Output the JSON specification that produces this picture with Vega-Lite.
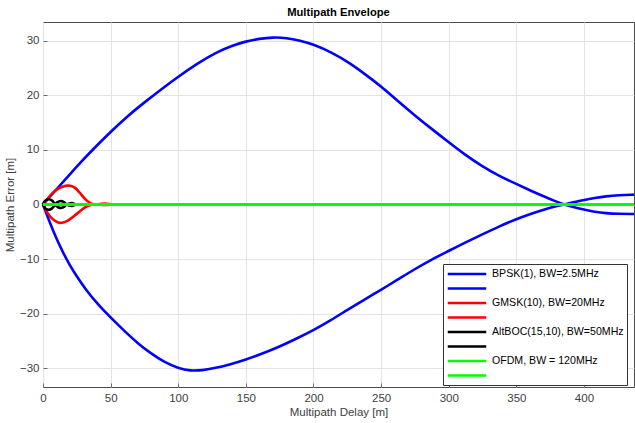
{
  "$schema": "https://vega.github.io/schema/vega-lite/v6.json",
  "width": 591,
  "height": 365,
  "autosize": {"type": "none"},
  "padding": {"left": 43, "top": 22, "right": 1, "bottom": 36},
  "background": "white",
  "title": {"text": "Multipath Envelope", "fontSize": 11.2, "fontWeight": "bold", "font": "Liberation Sans", "color": "#000000", "offset": 4, "anchor": "middle", "frame": "group"},
  "config": {
    "view": {"stroke": "#4d4d4d", "strokeWidth": 1},
    "axis": {"domain": false, "ticks": true, "tickSize": -4, "tickColor": "#4d4d4d", "tickWidth": 0.8, "grid": true, "gridColor": "#e3e3e3", "gridWidth": 1, "labelFont": "Liberation Sans", "labelFontSize": 11.5, "labelColor": "#404040", "titleFont": "Liberation Sans", "titleFontSize": 11.5, "titleFontWeight": "normal", "titleColor": "#404040"}
  },
  "data": {"values": [
    {"s":"BPSK(1), BW=2.5MHz","x":0,"y":0},
    {"s":"BPSK(1), BW=2.5MHz","x":10,"y":2.8},
    {"s":"BPSK(1), BW=2.5MHz","x":20,"y":5.55},
    {"s":"BPSK(1), BW=2.5MHz","x":27,"y":7.5},
    {"s":"BPSK(1), BW=2.5MHz","x":37,"y":10.1},
    {"s":"BPSK(1), BW=2.5MHz","x":50,"y":13.3},
    {"s":"BPSK(1), BW=2.5MHz","x":63,"y":16.3},
    {"s":"BPSK(1), BW=2.5MHz","x":76.6,"y":19.0},
    {"s":"BPSK(1), BW=2.5MHz","x":88,"y":21.2},
    {"s":"BPSK(1), BW=2.5MHz","x":100,"y":23.4},
    {"s":"BPSK(1), BW=2.5MHz","x":114,"y":25.8},
    {"s":"BPSK(1), BW=2.5MHz","x":128,"y":27.85},
    {"s":"BPSK(1), BW=2.5MHz","x":140,"y":29.1},
    {"s":"BPSK(1), BW=2.5MHz","x":150,"y":29.85},
    {"s":"BPSK(1), BW=2.5MHz","x":160,"y":30.35},
    {"s":"BPSK(1), BW=2.5MHz","x":170,"y":30.6},
    {"s":"BPSK(1), BW=2.5MHz","x":180,"y":30.5},
    {"s":"BPSK(1), BW=2.5MHz","x":190,"y":30.0},
    {"s":"BPSK(1), BW=2.5MHz","x":200,"y":29.3},
    {"s":"BPSK(1), BW=2.5MHz","x":213,"y":27.9},
    {"s":"BPSK(1), BW=2.5MHz","x":227,"y":25.9},
    {"s":"BPSK(1), BW=2.5MHz","x":240,"y":23.5},
    {"s":"BPSK(1), BW=2.5MHz","x":250,"y":21.6},
    {"s":"BPSK(1), BW=2.5MHz","x":262,"y":19.0},
    {"s":"BPSK(1), BW=2.5MHz","x":275,"y":16.3},
    {"s":"BPSK(1), BW=2.5MHz","x":287,"y":13.9},
    {"s":"BPSK(1), BW=2.5MHz","x":300,"y":11.4},
    {"s":"BPSK(1), BW=2.5MHz","x":312,"y":9.1},
    {"s":"BPSK(1), BW=2.5MHz","x":325,"y":6.95},
    {"s":"BPSK(1), BW=2.5MHz","x":337,"y":5.25},
    {"s":"BPSK(1), BW=2.5MHz","x":350,"y":3.75},
    {"s":"BPSK(1), BW=2.5MHz","x":360,"y":2.6},
    {"s":"BPSK(1), BW=2.5MHz","x":370,"y":1.5},
    {"s":"BPSK(1), BW=2.5MHz","x":378,"y":0.68},
    {"s":"BPSK(1), BW=2.5MHz","x":385,"y":0},
    {"s":"BPSK(1), BW=2.5MHz","x":392,"y":-0.45},
    {"s":"BPSK(1), BW=2.5MHz","x":400,"y":-0.95},
    {"s":"BPSK(1), BW=2.5MHz","x":408,"y":-1.35},
    {"s":"BPSK(1), BW=2.5MHz","x":416,"y":-1.6},
    {"s":"BPSK(1), BW=2.5MHz","x":426,"y":-1.72},
    {"s":"BPSK(1), BW=2.5MHz","x":437,"y":-1.75},
    {"s":"BPSK(1) lower","x":0,"y":0},
    {"s":"BPSK(1) lower","x":5,"y":-3.3},
    {"s":"BPSK(1) lower","x":10,"y":-6.3},
    {"s":"BPSK(1) lower","x":15,"y":-8.9},
    {"s":"BPSK(1) lower","x":20,"y":-11.2},
    {"s":"BPSK(1) lower","x":25,"y":-13.2},
    {"s":"BPSK(1) lower","x":32,"y":-15.7},
    {"s":"BPSK(1) lower","x":40,"y":-18.1},
    {"s":"BPSK(1) lower","x":50,"y":-20.7},
    {"s":"BPSK(1) lower","x":60,"y":-23.1},
    {"s":"BPSK(1) lower","x":70,"y":-25.4},
    {"s":"BPSK(1) lower","x":80,"y":-27.3},
    {"s":"BPSK(1) lower","x":90,"y":-28.9},
    {"s":"BPSK(1) lower","x":100,"y":-29.95},
    {"s":"BPSK(1) lower","x":109,"y":-30.45},
    {"s":"BPSK(1) lower","x":118,"y":-30.35},
    {"s":"BPSK(1) lower","x":126,"y":-30.0},
    {"s":"BPSK(1) lower","x":138,"y":-29.3},
    {"s":"BPSK(1) lower","x":150,"y":-28.4},
    {"s":"BPSK(1) lower","x":162,"y":-27.3},
    {"s":"BPSK(1) lower","x":175,"y":-26.0},
    {"s":"BPSK(1) lower","x":187,"y":-24.6},
    {"s":"BPSK(1) lower","x":200,"y":-23.0},
    {"s":"BPSK(1) lower","x":212,"y":-21.3},
    {"s":"BPSK(1) lower","x":225,"y":-19.3},
    {"s":"BPSK(1) lower","x":237,"y":-17.5},
    {"s":"BPSK(1) lower","x":250,"y":-15.6},
    {"s":"BPSK(1) lower","x":262,"y":-13.8},
    {"s":"BPSK(1) lower","x":275,"y":-11.8},
    {"s":"BPSK(1) lower","x":287,"y":-10.1},
    {"s":"BPSK(1) lower","x":300,"y":-8.5},
    {"s":"BPSK(1) lower","x":312,"y":-7.0},
    {"s":"BPSK(1) lower","x":325,"y":-5.45},
    {"s":"BPSK(1) lower","x":337,"y":-4.05},
    {"s":"BPSK(1) lower","x":350,"y":-2.65},
    {"s":"BPSK(1) lower","x":360,"y":-1.75},
    {"s":"BPSK(1) lower","x":370,"y":-0.95},
    {"s":"BPSK(1) lower","x":378,"y":-0.4},
    {"s":"BPSK(1) lower","x":385,"y":0},
    {"s":"BPSK(1) lower","x":393,"y":0.45},
    {"s":"BPSK(1) lower","x":400,"y":0.85},
    {"s":"BPSK(1) lower","x":408,"y":1.2},
    {"s":"BPSK(1) lower","x":416,"y":1.5},
    {"s":"BPSK(1) lower","x":426,"y":1.7},
    {"s":"BPSK(1) lower","x":437,"y":1.8},
    {"s":"GMSK(10), BW=20MHz","x":0,"y":0},
    {"s":"GMSK(10), BW=20MHz","x":3,"y":0.9},
    {"s":"GMSK(10), BW=20MHz","x":6,"y":1.8},
    {"s":"GMSK(10), BW=20MHz","x":9,"y":2.5},
    {"s":"GMSK(10), BW=20MHz","x":12,"y":3.0},
    {"s":"GMSK(10), BW=20MHz","x":15,"y":3.3},
    {"s":"GMSK(10), BW=20MHz","x":18,"y":3.45},
    {"s":"GMSK(10), BW=20MHz","x":21,"y":3.4},
    {"s":"GMSK(10), BW=20MHz","x":24,"y":3.0},
    {"s":"GMSK(10), BW=20MHz","x":27,"y":2.2},
    {"s":"GMSK(10), BW=20MHz","x":30,"y":1.3},
    {"s":"GMSK(10), BW=20MHz","x":33,"y":0.6},
    {"s":"GMSK(10), BW=20MHz","x":36,"y":0.15},
    {"s":"GMSK(10), BW=20MHz","x":39,"y":0},
    {"s":"GMSK(10), BW=20MHz","x":43,"y":0.12},
    {"s":"GMSK(10), BW=20MHz","x":47,"y":0.15},
    {"s":"GMSK(10), BW=20MHz","x":51,"y":0.05},
    {"s":"GMSK(10), BW=20MHz","x":56,"y":0},
    {"s":"GMSK(10), BW=20MHz","x":60,"y":0},
    {"s":"GMSK(10) lower","x":0,"y":0},
    {"s":"GMSK(10) lower","x":3,"y":-1.4},
    {"s":"GMSK(10) lower","x":6,"y":-2.4},
    {"s":"GMSK(10) lower","x":9,"y":-3.0},
    {"s":"GMSK(10) lower","x":12,"y":-3.35},
    {"s":"GMSK(10) lower","x":15,"y":-3.3},
    {"s":"GMSK(10) lower","x":18,"y":-3.0},
    {"s":"GMSK(10) lower","x":21,"y":-2.5},
    {"s":"GMSK(10) lower","x":24,"y":-1.9},
    {"s":"GMSK(10) lower","x":27,"y":-1.3},
    {"s":"GMSK(10) lower","x":30,"y":-0.7},
    {"s":"GMSK(10) lower","x":33,"y":-0.3},
    {"s":"GMSK(10) lower","x":36,"y":-0.05},
    {"s":"GMSK(10) lower","x":40,"y":0},
    {"s":"GMSK(10) lower","x":45,"y":-0.1},
    {"s":"GMSK(10) lower","x":50,"y":-0.05},
    {"s":"GMSK(10) lower","x":56,"y":0},
    {"s":"GMSK(10) lower","x":60,"y":0},
    {"s":"AltBOC(15,10), BW=50MHz","x":0,"y":0},
    {"s":"AltBOC(15,10), BW=50MHz","x":1,"y":0.5},
    {"s":"AltBOC(15,10), BW=50MHz","x":2.5,"y":0.85},
    {"s":"AltBOC(15,10), BW=50MHz","x":4.5,"y":0.95},
    {"s":"AltBOC(15,10), BW=50MHz","x":6.5,"y":0.75},
    {"s":"AltBOC(15,10), BW=50MHz","x":8,"y":0.35},
    {"s":"AltBOC(15,10), BW=50MHz","x":9,"y":0},
    {"s":"AltBOC(15,10), BW=50MHz","x":10.5,"y":0.4},
    {"s":"AltBOC(15,10), BW=50MHz","x":13,"y":0.65},
    {"s":"AltBOC(15,10), BW=50MHz","x":15.5,"y":0.45},
    {"s":"AltBOC(15,10), BW=50MHz","x":17.5,"y":0},
    {"s":"AltBOC(15,10), BW=50MHz","x":19.5,"y":0.2},
    {"s":"AltBOC(15,10), BW=50MHz","x":21.5,"y":0.25},
    {"s":"AltBOC(15,10), BW=50MHz","x":23.5,"y":0.1},
    {"s":"AltBOC(15,10), BW=50MHz","x":25,"y":0},
    {"s":"AltBOC(15,10), BW=50MHz","x":30,"y":0},
    {"s":"AltBOC(15,10) lower","x":0,"y":0},
    {"s":"AltBOC(15,10) lower","x":1,"y":-0.5},
    {"s":"AltBOC(15,10) lower","x":2.5,"y":-0.85},
    {"s":"AltBOC(15,10) lower","x":4.5,"y":-0.95},
    {"s":"AltBOC(15,10) lower","x":6.5,"y":-0.75},
    {"s":"AltBOC(15,10) lower","x":8,"y":-0.35},
    {"s":"AltBOC(15,10) lower","x":9,"y":0},
    {"s":"AltBOC(15,10) lower","x":10.5,"y":-0.4},
    {"s":"AltBOC(15,10) lower","x":13,"y":-0.65},
    {"s":"AltBOC(15,10) lower","x":15.5,"y":-0.45},
    {"s":"AltBOC(15,10) lower","x":17.5,"y":0},
    {"s":"AltBOC(15,10) lower","x":19.5,"y":-0.2},
    {"s":"AltBOC(15,10) lower","x":21.5,"y":-0.25},
    {"s":"AltBOC(15,10) lower","x":23.5,"y":-0.1},
    {"s":"AltBOC(15,10) lower","x":25,"y":0},
    {"s":"AltBOC(15,10) lower","x":30,"y":0},
    {"s":"OFDM, BW = 120MHz","x":0,"y":0},
    {"s":"OFDM, BW = 120MHz","x":437,"y":0},
    {"s":"OFDM lower","x":0,"y":0},
    {"s":"OFDM lower","x":437,"y":0}
  ]},
  "encoding": {
    "x": {"field": "x", "type": "quantitative", "scale": {"domain": [0, 437], "nice": false, "zero": false}, "axis": {"values": [0,50,100,150,200,250,300,350,400], "title": "Multipath Delay [m]", "labelPadding": 9, "titlePadding": 3, "labelFlush": false}},
    "y": {"field": "y", "type": "quantitative", "scale": {"domain": [-33.4, 33.4], "nice": false, "zero": false}, "axis": {"values": [-30,-20,-10,0,10,20,30], "title": "Multipath Error [m]", "labelPadding": 8, "titlePadding": 4, "labelFlush": false}},
    "color": {"field": "s", "type": "nominal", "sort": null,
      "scale": {"domain": ["BPSK(1), BW=2.5MHz","BPSK(1) lower","GMSK(10), BW=20MHz","GMSK(10) lower","AltBOC(15,10), BW=50MHz","AltBOC(15,10) lower","OFDM, BW = 120MHz","OFDM lower"],
                "range": ["#0000ff","#0000ff","#ff0000","#ff0000","#000000","#000000","#00ff00","#00ff00"]},
      "legend": {"orient": "none", "legendX": 400, "legendY": 242, "title": null, "symbolType": "M-3.5,0H3.5", "symbolSize": 121, "symbolStrokeWidth": 2.5, "labelFontSize": 10.6, "labelFont": "Liberation Sans", "labelColor": "#000000", "padding": 3, "rowPadding": 1.5, "symbolOffset": 14, "labelOffset": 18, "strokeColor": "#333333", "fillColor": "white", "labelExpr": "indexof(datum.label, 'lower') >= 0 ? '' : datum.label"}
    }
  },
  "layer": [
    {"transform": [{"filter": {"field": "s", "oneOf": ["BPSK(1), BW=2.5MHz","BPSK(1) lower"]}}], "mark": {"type": "line", "strokeWidth": 2.6, "interpolate": "basis"}},
    {"transform": [{"filter": {"field": "s", "oneOf": ["GMSK(10), BW=20MHz","GMSK(10) lower"]}}], "mark": {"type": "line", "strokeWidth": 2.6, "interpolate": "catmull-rom"}},
    {"transform": [{"filter": {"field": "s", "oneOf": ["AltBOC(15,10), BW=50MHz","AltBOC(15,10) lower"]}}], "mark": {"type": "line", "strokeWidth": 2.6, "interpolate": "catmull-rom"}},
    {"transform": [{"filter": {"field": "s", "oneOf": ["OFDM, BW = 120MHz","OFDM lower"]}}], "mark": {"type": "line", "strokeWidth": 2.8, "interpolate": "catmull-rom"}}
  ]
}
